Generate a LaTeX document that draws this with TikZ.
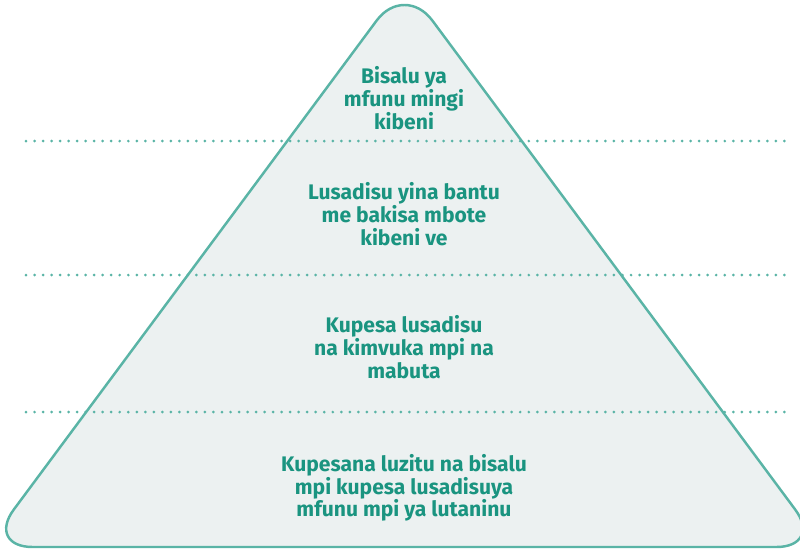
\documentclass[tikz,border=0pt]{standalone}
\usepackage{fontspec}
\setmainfont{Fira Sans}
\usepackage{tikz}
\usetikzlibrary{positioning}
\definecolor{edge}{HTML}{5AB4A6}
\definecolor{inside}{HTML}{ECF1F1}
\definecolor{label}{HTML}{1A9480}

\begin{document}
\begin{tikzpicture}[x=0.02cm,y=-0.02cm,
    level/.style={font=\bfseries\fontsize{12}{12.9}\selectfont,text=label,align=center},
    divider/.style={edge,line width=1.7pt,line cap=round,dash pattern=on 0pt off 4.85pt}]
    \useasboundingbox (0,0) rectangle (800,549);
    % Pyramid
    \draw[edge,fill=inside,line width=1.4pt,rounded corners=26.6pt] (-14,547) -- (404.5,-17) -- (823,547) -- cycle;
    % Dotted dividers
    \foreach \y in {141,275,412}
        \draw[divider] (26,\y) -- (787,\y);
    % Levels
    \node[level] (peak) at (404,98) {Bisalu ya\\mfunu mingi\\kibeni};
    \node[level] (second) at (404,214) {Lusadisu yina bantu\\me bakisa mbote\\kibeni ve};
    \node[level] (third) at (404,347) {Kupesa lusadisu\\na kimvuka mpi na\\mabuta};
    \node[level] (base) at (404,488) {Kupesana luzitu na bisalu\\mpi kupesa lusadisuya\\mfunu mpi ya lutaninu};
\end{tikzpicture}
\end{document}
